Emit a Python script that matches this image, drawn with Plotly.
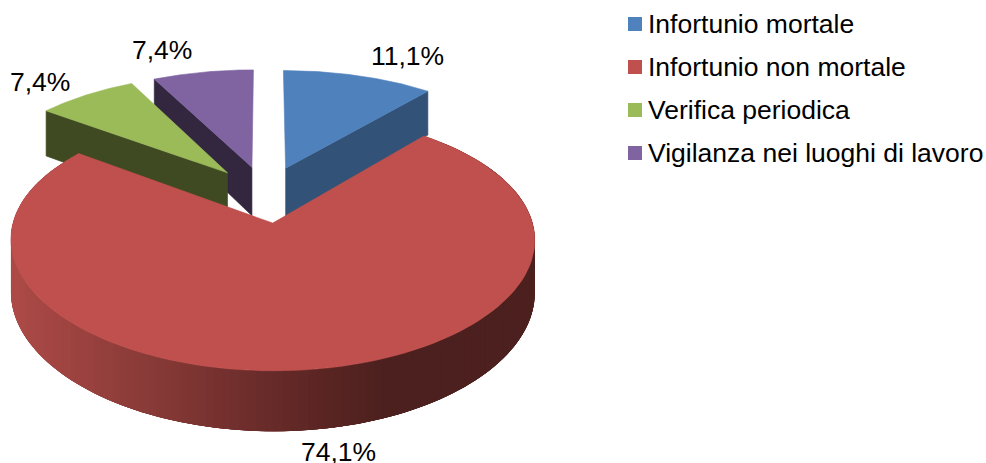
import math
import plotly.graph_objects as go

categories = ["Infortunio mortale", "Infortunio non mortale", "Verifica periodica", "Vigilanza nei luoghi di lavoro"]
values = [11.1, 74.1, 7.4, 7.4]
top_colors = ["#4F81BD", "#C0504D", "#9BBB59", "#8064A2"]
side_colors = ["#325277", "#4D201E", "#3F4A22", "#33263F"]
label_pos = [(407, 56), (338, 452), (40, 82), (162, 50)]
legend_y = [24, 67, 110, 153]

W, H = 986, 463
CX, CY = 265.5, 194.0      # pie centre on screen
RX, RY = 252.0, 118.0      # projected radii
KX, KY = 0.125, 0.14       # perspective strength
DEPTH = 50.0               # pie thickness
PULL = 0.24                # explosion


def project(X, Z, down=0.0):
    sy = 1 / (1 + KY * Z)
    return CX + RX * X / (1 + KX * Z), CY - RY * Z * sy + down * sy


def wedge_geometry(start, end):
    mid = math.radians((start + end) / 2)
    ox, oz = PULL * math.sin(mid), PULL * math.cos(mid)
    def rim(deg):
        a = math.radians(deg)
        return ox + math.sin(a), oz + math.cos(a)
    return (ox, oz), rim


def rim_color(x):
    stops = [(15, (172, 74, 71)), (150, (136, 58, 55)), (300, (96, 39, 37)), (385, (76, 32, 30)), (986, (76, 32, 30))]
    for (x0, c0), (x1, c1) in zip(stops, stops[1:]):
        if x <= x1:
            t = max(0, (x - x0) / (x1 - x0))
            return "rgb(%d,%d,%d)" % tuple(round(a + (b - a) * t) for a, b in zip(c0, c1))
    return "rgb(76,32,30)"


fig = go.Figure()


def poly(pts, color, lw=0.6):
    xs = [p[0] for p in pts] + [pts[0][0]]
    ys = [p[1] for p in pts] + [pts[0][1]]
    fig.add_trace(go.Scatter(x=xs, y=ys, mode="lines", fill="toself", fillcolor=color,
                             line=dict(color=color, width=lw), hoverinfo="skip", showlegend=False))


# cumulative sweep, clockwise from the top
total = sum(values)
spans = []
acc = 0.0
for v in values:
    spans.append((acc, acc + 360 * v / total))
    acc += 360 * v / total

# back-to-front order: blue, purple, green, red
for i in [0, 3, 2, 1]:
    start, end = spans[i]
    (ox, oz), rim = wedge_geometry(start, end)
    arc = [start + (end - start) * j / 120 for j in range(121)]
    if i == 1:
        # outer wall with a left-to-right shade; each band runs under the next one
        fine = [start + (end - start) * j / 160 for j in range(161)]
        for j in range(160):
            a_run = fine[j:min(j + 6, 161)]
            outer = [project(*rim(a)) for a in a_run]
            lower = [project(*rim(a), DEPTH) for a in reversed(a_run)]
            mid_x = project(*rim((fine[j] + fine[j + 1]) / 2))[0]
            poly(outer + lower, rim_color(mid_x), lw=0)
    else:
        # inner cut face that turns towards the viewer
        edge = end if i == 0 else start
        e = rim(edge)
        poly([project(ox, oz), project(*e), project(*e, DEPTH), project(ox, oz, DEPTH)], side_colors[i])
    poly([project(ox, oz)] + [project(*rim(a)) for a in arc], top_colors[i])

annotations = []
for v, (lx, ly) in zip(values, label_pos):
    annotations.append(dict(x=lx, y=ly, xref="x", yref="y", text=f"{v:.1f}%".replace(".", ","),
                            showarrow=False, font=dict(family="Liberation Sans", size=26.5, color="#000000")))

shapes = []
for c, col, ly in zip(categories, top_colors, legend_y):
    shapes.append(dict(type="rect", xref="x", yref="y", x0=628, x1=642, y0=ly - 7, y1=ly + 7,
                       fillcolor=col, line=dict(width=0)))
    annotations.append(dict(x=648, y=ly, xref="x", yref="y", text=c, xanchor="left", showarrow=False,
                            xshift=-2, font=dict(family="Liberation Sans", size=26.5, color="#000000")))

fig.update_layout(
    width=W, height=H, margin=dict(l=0, r=0, t=0, b=0),
    paper_bgcolor="white", plot_bgcolor="white", showlegend=False,
    xaxis=dict(range=[0, W], visible=False, fixedrange=True),
    yaxis=dict(range=[H, 0], visible=False, fixedrange=True),
    annotations=annotations, shapes=shapes,
)
fig.write_html("out.html", config={"displayModeBar": False},
               post_script="document.body.style.margin='0';document.body.style.overflow='hidden';")
